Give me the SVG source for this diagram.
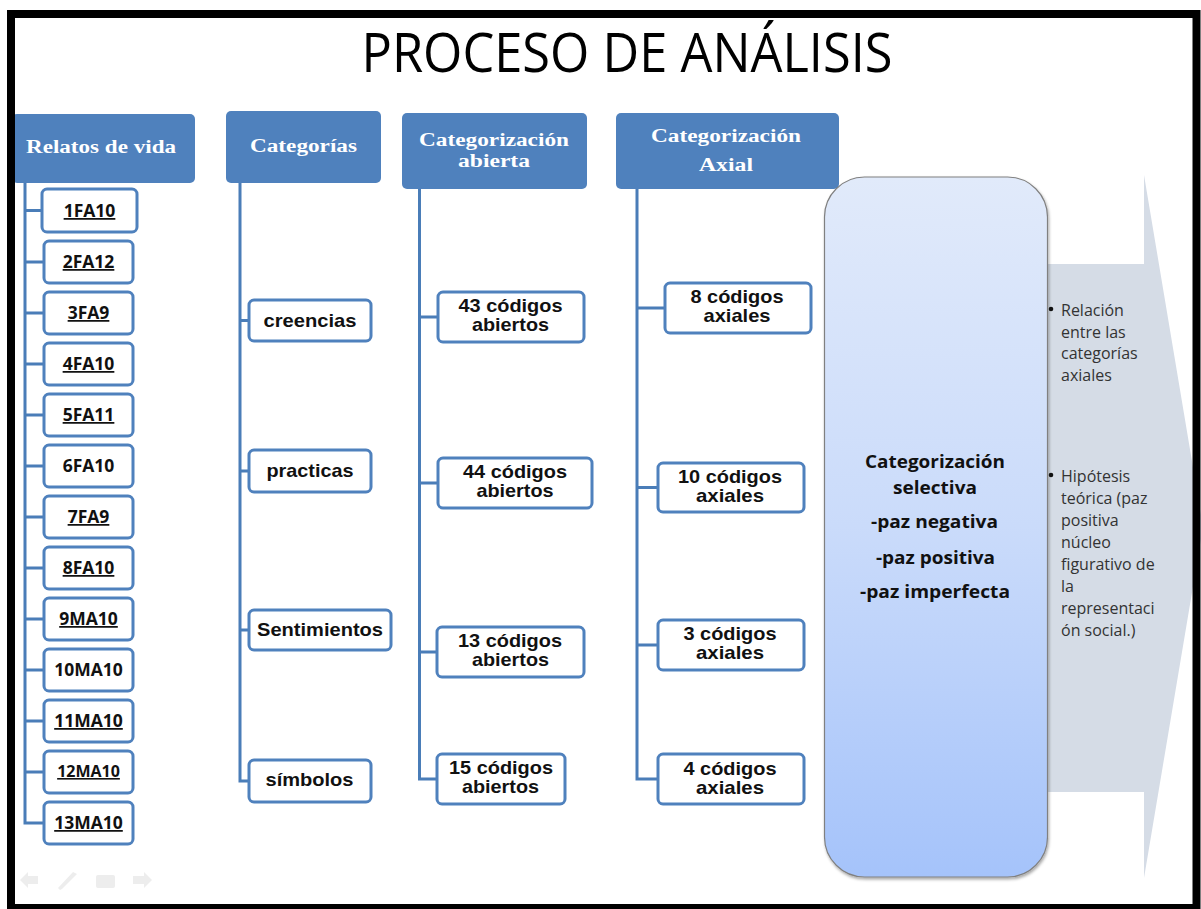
<svg xmlns="http://www.w3.org/2000/svg" width="1201" height="909" viewBox="0 0 1201 909">
<defs>
<linearGradient id="gsel" x1="0" y1="0" x2="0" y2="1">
<stop offset="0" stop-color="#E1EAFA"/>
<stop offset="0.5" stop-color="#CADBFA"/>
<stop offset="1" stop-color="#A5C3FA"/>
</linearGradient>
<filter id="sh" x="-10%" y="-10%" width="120%" height="120%">
<feDropShadow dx="1" dy="2" stdDeviation="1.5" flood-color="#000" flood-opacity="0.35"/>
</filter>
</defs>
<style>
.hdr{fill:#4F81BD}
.htx{font-family:"Liberation Serif",serif;font-weight:bold;font-size:18.5px;fill:#fff;text-anchor:middle}
.bx{fill:#fff;stroke:#4F81BD;stroke-width:3}
.lbl{font-family:"Open Sans","Noto Sans",sans-serif;font-weight:bold;font-size:17.5px;fill:#111;text-anchor:middle}
.u{text-decoration:underline}
.cat{font-family:"Liberation Sans",Arial,sans-serif;font-weight:bold;font-size:18.5px;fill:#111;text-anchor:middle}
.ln{fill:none;stroke:#4A7DB8;stroke-width:3}
.sel{font-family:"Open Sans","Noto Sans",sans-serif;font-weight:bold;font-size:18.5px;fill:#111;text-anchor:middle}
.bul{font-family:"Open Sans","Noto Sans",sans-serif;font-size:16px;fill:#333}
.nav{fill:#EDEDED}
</style>
<rect x="0" y="0" width="1201" height="909" fill="#fff"/>

<g id="title">
<text x="627" y="72" font-family="'Open Sans','Noto Sans',sans-serif" font-size="55" fill="#000" text-anchor="middle" textLength="531" lengthAdjust="spacingAndGlyphs">PROCESO DE ANÁLISIS</text>
</g>

<g id="big-arrow">
<polygon points="1000,264 1144,264 1144,175 1203,527 1144,878 1144,792 1000,792" fill="#D5DCE6"/>
</g>

<g id="connectors">
<path class="ln" d="M25,183 V823 H44 M25,210.5 H42 M25,262 H44 M25,313 H44 M25,364 H44 M25,415 H44 M25,466 H44 M25,517 H44 M25,568 H44 M25,619 H44 M25,670 H44 M25,721 H44 M25,772 H44"/>
<path class="ln" d="M240,183 V781 H249 M240,320.5 H249 M240,471 H249 M240,630 H249"/>
<path class="ln" d="M419.5,189 V779 H437 M419.5,317 H438 M419.5,483 H438 M419.5,652 H437"/>
<path class="ln" d="M637,189 V779 H658 M637,308 H665 M637,487.5 H658 M637,645 H658"/>
</g>

<g id="h-relatos">
<rect class="hdr" x="12" y="114" width="183" height="69" rx="5"/>
<text class="htx" x="101" y="153" textLength="150" lengthAdjust="spacingAndGlyphs">Relatos de vida</text>
</g>
<g id="h-categorias">
<rect class="hdr" x="226" y="111" width="155" height="72" rx="5"/>
<text class="htx" x="303.5" y="152" textLength="107" lengthAdjust="spacingAndGlyphs">Categorías</text>
</g>
<g id="h-abierta">
<rect class="hdr" x="402" y="113" width="185" height="76" rx="5"/>
<text class="htx" x="494" y="146" textLength="150" lengthAdjust="spacingAndGlyphs">Categorización</text>
<text class="htx" x="494" y="167" textLength="72" lengthAdjust="spacingAndGlyphs">abierta</text>
</g>
<g id="h-axial">
<rect class="hdr" x="616" y="113" width="223" height="76" rx="5"/>
<text class="htx" x="726" y="142" textLength="150" lengthAdjust="spacingAndGlyphs">Categorización</text>
<text class="htx" x="726" y="171" textLength="54" lengthAdjust="spacingAndGlyphs">Axial</text>
</g>

<g id="r1"><rect class="bx" x="42" y="189" width="95" height="43" rx="5"/><text class="lbl u" x="89.5" y="217">1FA10</text></g>
<g id="r2"><rect class="bx" x="44" y="241" width="89" height="42" rx="5"/><text class="lbl u" x="88.5" y="268">2FA12</text></g>
<g id="r3"><rect class="bx" x="44" y="292" width="89" height="42" rx="5"/><text class="lbl u" x="88.5" y="319">3FA9</text></g>
<g id="r4"><rect class="bx" x="44" y="343" width="89" height="42" rx="5"/><text class="lbl u" x="88.5" y="370">4FA10</text></g>
<g id="r5"><rect class="bx" x="44" y="394" width="89" height="42" rx="5"/><text class="lbl u" x="88.5" y="421">5FA11</text></g>
<g id="r6"><rect class="bx" x="44" y="445" width="89" height="42" rx="5"/><text class="lbl" x="88.5" y="472">6FA10</text></g>
<g id="r7"><rect class="bx" x="44" y="496" width="89" height="42" rx="5"/><text class="lbl u" x="88.5" y="523">7FA9</text></g>
<g id="r8"><rect class="bx" x="44" y="547" width="89" height="42" rx="5"/><text class="lbl u" x="88.5" y="574">8FA10</text></g>
<g id="r9"><rect class="bx" x="44" y="598" width="89" height="42" rx="5"/><text class="lbl u" x="88.5" y="625">9MA10</text></g>
<g id="r10"><rect class="bx" x="44" y="649" width="89" height="42" rx="5"/><text class="lbl" x="88.5" y="676">10MA10</text></g>
<g id="r11"><rect class="bx" x="44" y="700" width="89" height="42" rx="5"/><text class="lbl u" x="88.5" y="727">11MA10</text></g>
<g id="r12"><rect class="bx" x="44" y="751" width="89" height="42" rx="5"/><text class="lbl u" x="88.5" y="777" style="font-size:16px">12MA10</text></g>
<g id="r13"><rect class="bx" x="44" y="802" width="89" height="42" rx="5"/><text class="lbl u" x="88.5" y="829">13MA10</text></g>

<g id="c-creencias"><rect class="bx" x="249" y="300" width="122" height="41" rx="5"/><text class="cat" x="310" y="327" textLength="93" lengthAdjust="spacingAndGlyphs">creencias</text></g>
<g id="c-practicas"><rect class="bx" x="249" y="450" width="122" height="42" rx="5"/><text class="cat" x="310" y="477" textLength="87" lengthAdjust="spacingAndGlyphs">practicas</text></g>
<g id="c-sentimientos"><rect class="bx" x="249" y="610" width="142" height="40" rx="5"/><text class="cat" x="320" y="636" textLength="126" lengthAdjust="spacingAndGlyphs">Sentimientos</text></g>
<g id="c-simbolos"><rect class="bx" x="249" y="760" width="122" height="42" rx="5"/><text class="cat" x="309.5" y="786" textLength="88" lengthAdjust="spacingAndGlyphs">símbolos</text></g>

<g id="a43"><rect class="bx" x="438" y="292" width="146" height="50" rx="5"/><text class="cat" x="510.5" y="312" textLength="104" lengthAdjust="spacingAndGlyphs">43 códigos</text><text class="cat" x="510.5" y="331" textLength="77" lengthAdjust="spacingAndGlyphs">abiertos</text></g>
<g id="a44"><rect class="bx" x="438" y="458" width="154" height="50" rx="5"/><text class="cat" x="515" y="478" textLength="104" lengthAdjust="spacingAndGlyphs">44 códigos</text><text class="cat" x="515" y="497" textLength="77" lengthAdjust="spacingAndGlyphs">abiertos</text></g>
<g id="a13"><rect class="bx" x="437" y="627" width="147" height="50" rx="5"/><text class="cat" x="510" y="647" textLength="104" lengthAdjust="spacingAndGlyphs">13 códigos</text><text class="cat" x="510.5" y="666" textLength="77" lengthAdjust="spacingAndGlyphs">abiertos</text></g>
<g id="a15"><rect class="bx" x="437" y="754" width="128" height="50" rx="5"/><text class="cat" x="501" y="774" textLength="104" lengthAdjust="spacingAndGlyphs">15 códigos</text><text class="cat" x="500.5" y="793" textLength="77" lengthAdjust="spacingAndGlyphs">abiertos</text></g>

<g id="x8"><rect class="bx" x="665" y="283" width="146" height="50" rx="5"/><text class="cat" x="737" y="303" textLength="93" lengthAdjust="spacingAndGlyphs">8 códigos</text><text class="cat" x="737" y="322" textLength="67" lengthAdjust="spacingAndGlyphs">axiales</text></g>
<g id="x10"><rect class="bx" x="658" y="463" width="146" height="49" rx="5"/><text class="cat" x="730" y="483" textLength="104" lengthAdjust="spacingAndGlyphs">10 códigos</text><text class="cat" x="730" y="502" textLength="68" lengthAdjust="spacingAndGlyphs">axiales</text></g>
<g id="x3"><rect class="bx" x="658" y="620" width="146" height="50" rx="5"/><text class="cat" x="730" y="640" textLength="93" lengthAdjust="spacingAndGlyphs">3 códigos</text><text class="cat" x="730" y="659" textLength="68" lengthAdjust="spacingAndGlyphs">axiales</text></g>
<g id="x4"><rect class="bx" x="658" y="754" width="146" height="50" rx="5"/><text class="cat" x="730" y="775" textLength="93" lengthAdjust="spacingAndGlyphs">4 códigos</text><text class="cat" x="730" y="794" textLength="68" lengthAdjust="spacingAndGlyphs">axiales</text></g>

<g id="selectiva">
<rect x="824.5" y="177" width="223" height="700" rx="40" fill="url(#gsel)" stroke="#808080" stroke-width="1.2" filter="url(#sh)"/>
<text class="sel" x="935" y="468" textLength="140" lengthAdjust="spacingAndGlyphs">Categorización</text>
<text class="sel" x="935" y="494" textLength="84" lengthAdjust="spacingAndGlyphs">selectiva</text>
<text class="sel" x="934.5" y="528" textLength="127" lengthAdjust="spacingAndGlyphs">-paz negativa</text>
<text class="sel" x="935.5" y="564" textLength="119" lengthAdjust="spacingAndGlyphs">-paz positiva</text>
<text class="sel" x="935" y="598" textLength="150" lengthAdjust="spacingAndGlyphs">-paz imperfecta</text>
</g>

<g id="bullet-relacion">
<circle cx="1051" cy="309" r="2.3" fill="#111"/>
<text class="bul" x="1061" y="316">Relación</text>
<text class="bul" x="1061" y="337.5">entre las</text>
<text class="bul" x="1061" y="359">categorías</text>
<text class="bul" x="1061" y="380.5">axiales</text>
</g>
<g id="bullet-hipotesis">
<circle cx="1051" cy="475" r="2.3" fill="#111"/>
<text class="bul" x="1061" y="482">Hipótesis</text>
<text class="bul" x="1061" y="504">teórica (paz</text>
<text class="bul" x="1061" y="526">positiva</text>
<text class="bul" x="1061" y="548">núcleo</text>
<text class="bul" x="1061" y="570">figurativo de</text>
<text class="bul" x="1061" y="592">la</text>
<text class="bul" x="1061" y="614">representaci</text>
<text class="bul" x="1061" y="636">ón social.)</text>
</g>

<g id="nav-icons">
<polygon class="nav" points="20,880 28,872 28,876 38,876 38,884 28,884 28,888"/>
<polygon class="nav" points="60,890 58,888 73,872 77,874 62,889"/>
<rect class="nav" x="96" y="875" width="19" height="13" rx="2"/>
<polygon class="nav" points="152,880 144,872 144,876 133,876 133,884 144,884 144,888"/>
</g>

<g id="frame">
<rect x="11" y="14" width="1185.5" height="894" fill="none" stroke="#000" stroke-width="8"/>
</g>
</svg>
